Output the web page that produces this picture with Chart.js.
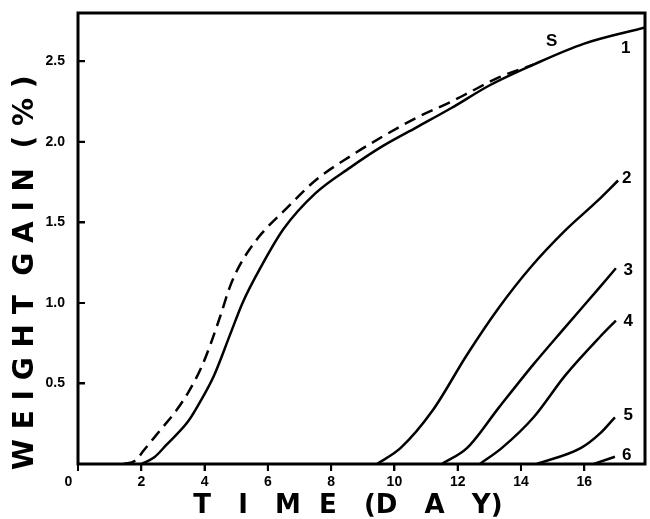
<!DOCTYPE html>
<html>
<head>
<meta charset="utf-8">
<script src="https://cdn.jsdelivr.net/npm/chart.js@4.4.1/dist/chart.umd.min.js"></script>
<style>
  html, body { margin: 0; padding: 0; background: #fff; }
</style>
</head>
<body>
<canvas id="chart" width="650" height="519"></canvas>
<script>
// Weight gain (%) vs time (day)
const sDays  = [1.45, 1.8, 2.1, 2.6, 3.1, 3.5, 3.9, 4.2, 4.5, 4.8, 5.1, 5.45, 5.8, 6.5, 7.5, 8.6, 9.6, 10.7, 11.8, 12.3, 13.3, 14.4];
const sGain  = [0, 0.02, 0.09, 0.21, 0.33, 0.45, 0.6, 0.75, 0.92, 1.1, 1.23, 1.34, 1.43, 1.57, 1.76, 1.91, 2.03, 2.15, 2.25, 2.3, 2.4, 2.48];

const c1Days = [2.0, 2.4, 2.8, 3.5, 3.9, 4.3, 4.8, 5.2, 5.8, 6.5, 7.5, 8.6, 9.6, 10.7, 11.8, 13.0, 14.4, 16.0, 17.92];
const c1Gain = [0, 0.04, 0.12, 0.27, 0.4, 0.55, 0.8, 1.0, 1.23, 1.46, 1.68, 1.84, 1.97, 2.09, 2.21, 2.35, 2.48, 2.61, 2.71];

const c2Days = [9.45, 10.2, 11.2, 12.3, 13.3, 14.3, 15.4, 16.4, 17.07];
const c2Gain = [0, 0.1, 0.33, 0.68, 0.97, 1.22, 1.45, 1.63, 1.76];

const c3Days = [11.5, 12.3, 13.3, 14.4, 15.4, 16.5, 17.0];
const c3Gain = [0, 0.1, 0.35, 0.62, 0.85, 1.1, 1.215];

const c4Days = [12.7, 13.4, 14.4, 15.4, 16.5, 17.0];
const c4Gain = [0, 0.1, 0.29, 0.55, 0.79, 0.89];

const c5Days = [14.5, 15.9, 16.5, 16.97];
const c5Gain = [0, 0.1, 0.19, 0.29];

const c6Days = [16.3, 16.97];
const c6Gain = [0, 0.045];

const xTicks = [0, 2, 4, 6, 8, 10, 12, 14, 16];
const yTicks = [0.5, 1.0, 1.5, 2.0, 2.5];

// curve names, placed at the end of each curve (day, %)
const curveNames = ['S', '1', '2', '3', '4', '5', '6'];
const nameDays   = [14.97, 17.31, 17.34, 17.39, 17.39, 17.39, 17.34];
const nameGain   = [2.624, 2.583, 1.775, 1.205, 0.883, 0.303, 0.054];

function toPoints(days, gain) {
    return days.map((d, i) => ({ x: d, y: gain[i] }));
}

function curve(days, gain, dashed) {
    return {
        data: toPoints(days, gain),
        borderColor: '#000',
        borderWidth: 2.5,
        borderDash: dashed ? [12, 7] : [],
        pointRadius: 0,
        cubicInterpolationMode: 'monotone',
        fill: false
    };
}

// box round the plot, the short tick marks and the curve names
const framePlugin = {
    id: 'frame',
    afterDraw(chart) {
        const { ctx, chartArea: a, scales } = chart;
        ctx.save();
        ctx.strokeStyle = '#000';
        ctx.lineWidth = 3;
        ctx.strokeRect(a.left, a.top, a.right - a.left, a.bottom - a.top);

        // x ticks point down out of the box, y ticks point into it
        ctx.lineWidth = 2;
        ctx.beginPath();
        scales.x.ticks.forEach(t => {
            const px = scales.x.getPixelForValue(t.value);
            ctx.moveTo(px, a.bottom);
            ctx.lineTo(px, a.bottom + 7);
        });
        scales.y.ticks.forEach(t => {
            const py = scales.y.getPixelForValue(t.value);
            ctx.moveTo(a.left, py);
            ctx.lineTo(a.left + 7, py);
        });
        ctx.stroke();

        ctx.fillStyle = '#000';
        ctx.font = 'bold 17px "Liberation Sans", Arial, sans-serif';
        ctx.textAlign = 'center';
        ctx.textBaseline = 'middle';
        curveNames.forEach((name, i) => {
            ctx.fillText(name, scales.x.getPixelForValue(nameDays[i]), scales.y.getPixelForValue(nameGain[i]));
        });
        ctx.restore();
    }
};

const tickFont = { family: '"Liberation Sans", Arial, sans-serif', size: 14, weight: 'bold' };

new Chart(document.getElementById('chart'), {
    type: 'line',
    data: {
        datasets: [
            curve(sDays, sGain, true),
            curve(c1Days, c1Gain),
            curve(c2Days, c2Gain),
            curve(c3Days, c3Gain),
            curve(c4Days, c4Gain),
            curve(c5Days, c5Gain),
            curve(c6Days, c6Gain)
        ]
    },
    options: {
        responsive: false,
        animation: false,
        layout: { padding: { left: 0, right: 5, top: 13, bottom: 0 } },
        plugins: { legend: { display: false }, tooltip: { enabled: false } },
        scales: {
            x: {
                type: 'linear',
                min: 0,
                max: 17.92,
                afterBuildTicks: (scale) => { scale.ticks = xTicks.map(v => ({ value: v })); },
                afterFit: (scale) => {
                    scale.height = 55;
                    scale.paddingLeft = 0;
                    scale.paddingRight = 0;
                },
                border: { display: false },
                grid: { drawOnChartArea: false, drawTicks: true, tickLength: 7, color: '#000', lineWidth: 2 },
                ticks: {
                    color: '#000',
                    font: tickFont,
                    padding: 3,
                    maxRotation: 0,
                    autoSkip: false,
                    // the corner zero sits a little left of the axis
                    callback: (v) => v === 0 ? '0     ' : String(v)
                },
                title: {
                    display: true,
                    text: 'T   I   M  E   (D   A   Y)   ',
                    color: '#000',
                    font: { family: '"DejaVu Sans", sans-serif', size: 26, weight: 'bold', lineHeight: 1 },
                    padding: { top: 0, bottom: 0 }
                }
            },
            y: {
                type: 'linear',
                min: 0,
                max: 2.8,
                afterBuildTicks: (scale) => { scale.ticks = yTicks.map(v => ({ value: v })); },
                afterFit: (scale) => {
                    scale.width = 78;
                    scale.paddingTop = 0;
                    scale.paddingBottom = 0;
                },
                border: { display: false },
                grid: { drawOnChartArea: false, drawTicks: true, tickLength: -7, color: '#000', lineWidth: 2 },
                ticks: {
                    color: '#000',
                    font: tickFont,
                    padding: 20,
                    autoSkip: false,
                    callback: (v) => v.toFixed(1)
                },
                title: {
                    display: true,
                    text: 'W E I G H T  G A I N  ( % )       ',
                    color: '#000',
                    font: { family: '"DejaVu Sans", sans-serif', size: 28, weight: 'bold', lineHeight: 1 },
                    padding: { top: 12, bottom: 0 }
                }
            }
        }
    },
    plugins: [framePlugin]
});
</script>
</body>
</html>
